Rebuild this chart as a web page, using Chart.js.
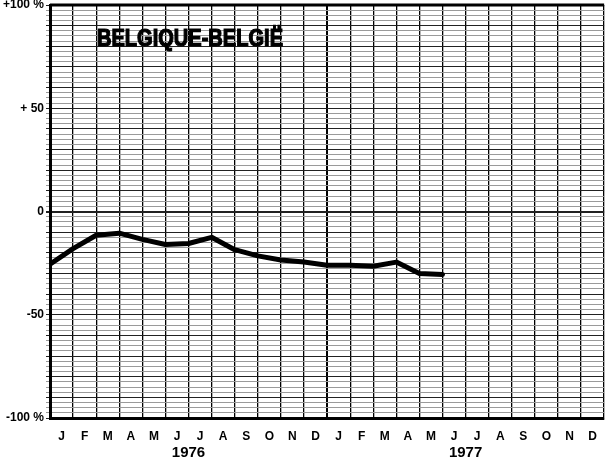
<!DOCTYPE html>
<html>
<head>
<meta charset="utf-8">
<script src="https://cdn.jsdelivr.net/npm/chart.js@4"></script>
<style>
  html, body { margin: 0; background: #fff; }
  .chart-wrap { width: 608px; height: 467px; position: relative; }
</style>
</head>
<body>
<div class="chart-wrap"><canvas id="belgiumChart"></canvas></div>
<script>
/* data: % change, plotted at month boundaries */
const months = ['J','F','M','A','M','J','J','A','S','O','N','D','J','F','M','A','M','J','J','A','S','O','N','D'];
const years = ['1976', '1977'];
const monthIndex = [0, 1, 2, 3, 4, 5, 6, 7, 8, 9, 10, 11, 12, 13, 14, 15, 16, 17];
const change = [-25.5, -18, -11.5, -10.5, -13.5, -16, -15.5, -12.5, -18.5, -21.5, -23.5, -24.5, -26, -26, -26.5, -24.5, -30, -30.5];
const yTickValues = [100, 50, 0, -50, -100];
const yTickText = ['+100 %', '+ 50', '0', '-50', '-100 %'];
const title = 'BELGIQUE-BELGIË';

const labelFont = { family: 'Liberation Sans', size: 12, weight: 'bold' };

// frame top line + big title inside the plot
const framePlugin = {
  id: 'frame',
  afterDraw(chart) {
    const { ctx, chartArea: a } = chart;
    ctx.save();
    ctx.strokeStyle = '#000';
    ctx.lineWidth = 3;
    ctx.beginPath();
    ctx.moveTo(a.left, a.top);
    ctx.lineTo(a.right, a.top);
    ctx.stroke();
    ctx.fillStyle = '#000';
    ctx.font = 'bold 23px "Liberation Sans"';
    ctx.textBaseline = 'alphabetic';
    ctx.lineWidth = 1.2;
    ctx.fillText(title, a.left + 47, a.top + 41, 186);
    ctx.strokeText(title, a.left + 47, a.top + 41, 186);
    ctx.restore();
  }
};

new Chart(document.getElementById('belgiumChart'), {
  type: 'line',
  data: {
    datasets: [{
      data: monthIndex.map((m, i) => ({ x: m, y: change[i] })),
      xAxisID: 'x',
      yAxisID: 'y',
      borderColor: '#000',
      borderWidth: 5,
      tension: 0,
      pointRadius: 0,
      borderCapStyle: 'round',
      borderJoinStyle: 'round'
    }]
  },
  options: {
    responsive: true,
    maintainAspectRatio: false,
    animation: false,
    layout: { padding: { top: 0, right: 0, bottom: 2 } },
    plugins: { legend: { display: false }, tooltip: { enabled: false } },
    scales: {
      x: { type: 'linear', min: 0, max: 24, display: false },
      months: {
        type: 'category',
        position: 'bottom',
        labels: months,
        offset: true,
        weight: 0,
        afterFit: s => { s.height = 24; },
        grid: {
          offset: true,
          drawTicks: false,
          color: '#000',
          lineWidth: c => (c.index === 12 ? 2 : 1.3)
        },
        border: { color: '#000', width: 3 },
        ticks: { autoSkip: false, maxRotation: 0, padding: 11, color: '#000', font: labelFont }
      },
      years: {
        type: 'category',
        position: 'bottom',
        labels: years,
        offset: true,
        weight: 1,
        afterFit: s => { s.height = 23; },
        grid: { display: false, drawTicks: false },
        border: { display: false },
        ticks: { maxRotation: 0, padding: 2, color: '#000', font: { family: 'Liberation Sans', size: 15, weight: 'bold' } }
      },
      y: {
        min: -100,
        max: 100,
        afterFit: s => { s.width = 50; s.paddingTop = 5; s.paddingBottom = 0; },
        grid: {
          color: c => (c.tick.value % 10 === 0 ? '#222' : '#9a9a9a'),
          lineWidth: c => (c.tick.value === 0 ? 2 : 1),
          tickLength: 4
        },
        border: { color: '#000', width: 3 },
        ticks: {
          stepSize: 2.5,
          autoSkip: false,
          padding: 2,
          color: '#000',
          font: labelFont,
          callback: v => {
            const k = yTickValues.indexOf(v);
            return k >= 0 ? yTickText[k] : '';
          }
        }
      }
    }
  },
  plugins: [framePlugin]
});
</script>
</body>
</html>
